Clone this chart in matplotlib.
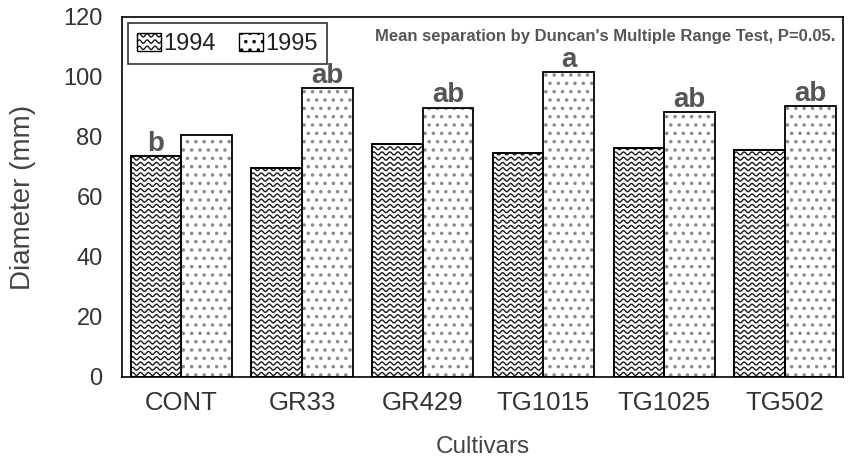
import numpy as np
import matplotlib.pyplot as plt
from matplotlib.patches import Rectangle
from matplotlib.legend_handler import HandlerPatch

# data
cultivars = ["CONT", "GR33", "GR429", "TG1015", "TG1025", "TG502"]
d1994 = [73.5, 69.7, 77.5, 74.7, 76.3, 75.5]
d1995 = [80.5, 96.3, 89.7, 101.5, 88.3, 90.3]
letters = ["b", "ab", "ab", "a", "ab", "ab"]
letter_on = ["1994", "1995", "1995", "1995", "1995", "1995"]
yticks = [0, 20, 40, 60, 80, 100, 120]

plt.rcParams["font.family"] = ["Liberation Sans", "DejaVu Sans"]
plt.rcParams["hatch.linewidth"] = 1.3

fig = plt.figure(figsize=(8.48, 4.58), dpi=100)
ax = fig.add_axes([0.144, 0.177, 0.850, 0.786])

x = np.arange(len(cultivars))
w = 0.42
DOT = "#8a8a8a"


def wavy_fill(ax, bar):
    # wavy texture for 1994 bars, clipped to the bar
    x0, y0 = bar.get_x(), bar.get_y()
    bw, bh = bar.get_width(), bar.get_height()
    xs = np.linspace(x0, x0 + bw, 200)
    for yb in np.arange(y0 + 1.0, y0 + bh + 1.0, 1.75):
        line, = ax.plot(xs, yb + 0.5 * np.sin((xs - x0) / 0.066 * 2 * np.pi),
                        color="#1a1a1a", lw=1.0, zorder=3)
        line.set_clip_path(bar)


bars94 = ax.bar(x - w / 2, d1994, w, facecolor="white", edgecolor="black",
                lw=1.2, zorder=2)
bars95 = ax.bar(x + w / 2, d1995, w, facecolor="white", edgecolor=DOT,
                lw=0, hatch="..", zorder=2)
for b in bars94:
    wavy_fill(ax, b)
for b in list(bars94) + list(bars95):
    ax.add_patch(Rectangle((b.get_x(), 0), b.get_width(), b.get_height(),
                           fill=False, edgecolor="black", lw=1.3, zorder=4))

for i, lab in enumerate(letters):
    if letter_on[i] == "1994":
        xx, yy = x[i] - w / 2, d1994[i]
    else:
        xx, yy = x[i] + w / 2, d1995[i]
    ax.text(xx, yy + 1.8, lab, ha="center", va="baseline", fontsize=20,
            fontweight="bold", color="#555555", zorder=5)

ax.text(0.99, 0.945, "Mean separation by Duncan's Multiple Range Test, P=0.05.",
        transform=ax.transAxes, ha="right", va="center", fontsize=12,
        fontweight="bold", color="#555555")

ax.set_xlim(-0.49, 5.48)
ax.set_ylim(0, 120)
ax.set_yticks(yticks)
ax.set_xticks(x)
ax.set_xticklabels(cultivars)
ax.tick_params(axis="both", length=0, labelcolor="#333333")
ax.tick_params(axis="y", pad=14, labelsize=17)
ax.tick_params(axis="x", pad=10, labelsize=18.5)
ax.set_ylabel("Diameter (mm)", fontsize=20, color="#444444", labelpad=20)
ax.set_xlabel("Cultivars", fontsize=17.5, color="#444444", labelpad=15)
for s in ax.spines.values():
    s.set_linewidth(1.2)


class WavyHandler(HandlerPatch):
    def create_artists(self, legend, orig_handle, xdescent, ydescent,
                       width, height, fontsize, trans):
        rect = Rectangle((-xdescent, -ydescent), width, height, facecolor="white",
                         edgecolor="black", lw=1.0, transform=trans)
        arts = [rect]
        xs = np.linspace(-xdescent, -xdescent + width, 40)
        for yb in np.linspace(-ydescent + 2, -ydescent + height - 2, 3):
            ln = plt.Line2D(xs, yb + 1.2 * np.sin((xs + xdescent) / width * 3 * 2 * np.pi),
                            color="black", lw=0.9, transform=trans)
            arts.append(ln)
        return arts


h94 = Rectangle((0, 0), 1, 1, facecolor="white", edgecolor="black")
h95 = Rectangle((0, 0), 1, 1, facecolor="white", edgecolor="black", hatch="..")
leg = ax.legend([h94, h95], ["1994", "1995"], ncol=2, loc="upper left",
                bbox_to_anchor=(0.008, 0.983), fontsize=17, frameon=True,
                fancybox=False, edgecolor="black", handlelength=1.0,
                handleheight=0.8, handletextpad=0.1, columnspacing=1.0,
                borderpad=0.4, borderaxespad=0.0,
                handler_map={h94: WavyHandler()})
leg.get_frame().set_linewidth(1.2)
for t in leg.get_texts():
    t.set_color("#222222")

fig.savefig("out.png", dpi=100)
